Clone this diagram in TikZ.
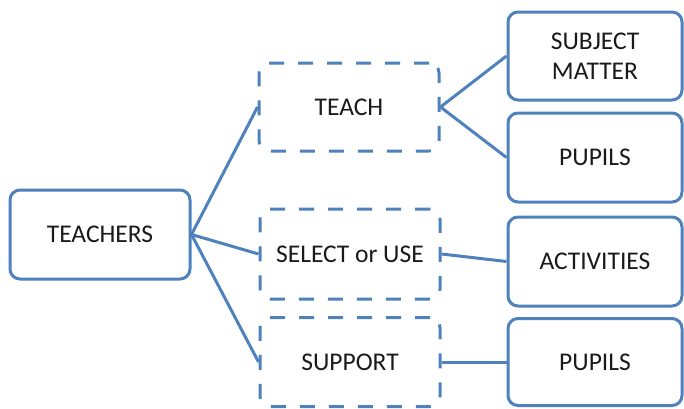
\documentclass[tikz,border=0pt]{standalone}
\usepackage{fontspec}
\setmainfont{Carlito}
\definecolor{boxblue}{HTML}{4F81BD}
\definecolor{ink}{HTML}{1A1A1A}
\begin{document}
\begin{tikzpicture}[x=1pt,y=-1pt,
  base/.style={rectangle, rounded corners=10pt, draw=boxblue, line width=3pt,
    fill=white, text=ink, align=center, inner sep=0pt,
    font=\fontsize{25.5}{30}\selectfont},
  solidbox/.style={base},
  dashbox/.style={base, dash pattern=on 15pt off 14pt},
  link/.style={draw=boxblue, line width=3pt}]
\useasboundingbox (0,0) rectangle (684,408);

% left column
\node[solidbox, minimum width=180pt, minimum height=89pt] (teachers) at (100,234.5) {TEACHERS};

% middle column: actions
\node[dashbox, minimum width=180pt, minimum height=88pt] (teach) at (349,107) {TEACH};
\node[dashbox, minimum width=180pt, minimum height=90pt] (select) at (350,254) {SELECT or USE};
\node[dashbox, minimum width=180pt, minimum height=89pt] (support) at (350,362) {SUPPORT};

% right column: objects
\node[solidbox, minimum width=174pt, minimum height=88pt] (subject) at (595,56) {SUBJECT\\MATTER};
\node[solidbox, minimum width=174pt, minimum height=89pt] (pupilsA) at (595,157.5) {PUPILS};
\node[solidbox, minimum width=174pt, minimum height=89pt] (activities) at (595,261.5) {ACTIVITIES};
\node[solidbox, minimum width=174pt, minimum height=87pt] (pupilsB) at (595,362) {PUPILS};

% connectors
\draw[link] (teachers.east) -- (teach.west);
\draw[link] (teachers.east) -- (select.west);
\draw[link] (teachers.east) -- (support.west);
\draw[link] (teach.east) -- (subject.west);
\draw[link] (teach.east) -- (pupilsA.west);
\draw[link] (select.east) -- (activities.west);
\draw[link] (support.east) -- (pupilsB.west);
\end{tikzpicture}
\end{document}
